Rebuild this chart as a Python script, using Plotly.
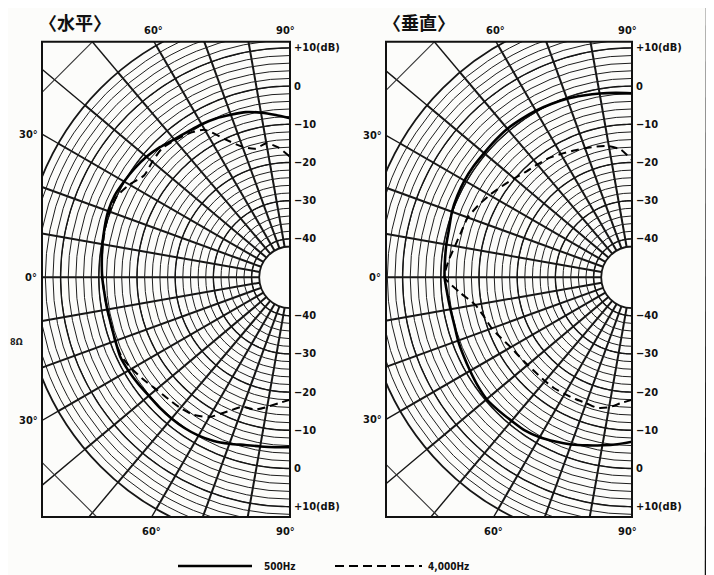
import math
import plotly.graph_objects as go

# ---------------- data ----------------
angles = list(range(-90, 95, 5))  # degrees; negative = lower half, 0 = front (left)

# 〈水平〉 horizontal
h_500 = [-5.6, -5.4, -5.1, -4.6, -3.7, -2.8, -2.2, -1.9, -1.8, -1.8, -1.8, -1.5, -1.2, -1.0, -1.4, -1.6, -1.5, -1.3,
         -0.9,
         -0.6, -0.2, 0.2, 0.6, 0.6, 0.1, -0.4, -1.0, -1.9, -2.9, -3.5, -3.8, -4.2, -4.8, -5.3, -6.3, -7.4, -8.4]
h_4000 = [-18.0, -17.0, -15.6, -14.2, -14.0, -11.3, -7.8, -6.1, -5.4, -5.0, -4.4, -3.3, -2.2, -1.3, -1.4, -1.6, -1.5, -1.3,
          -0.9,
          -0.6, -0.3, 0.0, 0.2, 0.0, -1.5, -3.5, -3.0, -2.5, -3.2, -4.0, -5.5, -10.3, -13.7, -15.2, -14.4, -16.0, -18.5]

# 〈垂直〉 vertical
v_500 = [-7.0, -6.2, -5.4, -4.5, -3.5, -2.6, -1.7, -1.1, -1.0, -0.7, -0.4, -0.7, -1.1, -1.4, -1.6, -1.9, -1.8, -1.5,
         -1.0,
         -0.9, -0.7, -0.5, 0.1, 0.4, 0.6, 0.6, 0.5, 0.6, 0.7, 0.5, 0.3, 0.0, -0.3, -0.8, -1.2, -1.6, -1.9]
v_4000 = [-18.0, -17.0, -15.5, -14.7, -15.0, -14.9, -14.8, -14.6, -14.6, -14.6, -14.4, -14.0, -13.4, -12.3, -11.0, -10.0, -8.4, -4.8,
          -1.0,
          -1.8, -3.0, -3.8, -4.3, -5.6, -7.0, -8.5, -9.8, -10.9, -11.5, -12.0, -12.8, -13.5, -14.1, -14.6, -15.2, -16.5, -19.4]

panel_titles = ["〈水平〉", "〈垂直〉"]
series_names = ["500Hz", "4,000Hz"]
db_labels = [10, 0, -10, -20, -30, -40]
angle_labels = [0, 30, 60, 90]
major_rings = [-40, -30, -20, -10, 0, 10]

# ---------------- geometry (reference page pixels) ----------------
W, H = 714, 575
OFF = 8  # page margin of the html body
DB_MIN, DB_MAX = -42, 20
R_OUT = 267.6
HOLE_PX = 30.8
HOLE = HOLE_PX / R_OUT
CY = 277.3
CENTERS = [290.0, 632.0]
BOX_LEFT = [42.0, 386.0]
BOX_TOP, BOX_BOT = 41.7, 517.0
PAPER = "#fcfcfa"
INK = "#161616"


def rpx(db):
    return HOLE_PX + (R_OUT - HOLE_PX) * (db - DB_MIN) / (DB_MAX - DB_MIN)


def px(x):
    return (x - OFF) / W


def py(y):
    return 1 - (y - OFF) / H


fig = go.Figure()

panels = [(h_500, h_4000), (v_500, v_4000)]
for i, (s500, s4000) in enumerate(panels):
    sub = "polar" if i == 0 else "polar2"
    ring_theta = list(range(-90, 91, 1))
    for rv in major_rings:
        fig.add_trace(go.Scatterpolar(r=[rv] * len(ring_theta), theta=ring_theta, mode="lines",
                                      line=dict(color=INK, width=1.4), hoverinfo="skip",
                                      showlegend=False, subplot=sub))
    fig.add_trace(go.Scatterpolar(r=s500, theta=angles, mode="lines", name=series_names[0],
                                  line=dict(color="#000000", width=2.6, shape="spline", smoothing=0.6),
                                  showlegend=False, subplot=sub))
    fig.add_trace(go.Scatterpolar(r=s4000, theta=angles, mode="lines", name=series_names[1],
                                  line=dict(color="#000000", width=2.0, dash="8px,5px", shape="spline", smoothing=0.6),
                                  showlegend=False, subplot=sub))

polar_common = dict(
    sector=[90, 270],
    hole=HOLE,
    bgcolor=PAPER,
    radialaxis=dict(range=[DB_MIN, DB_MAX], tickmode="array", tickvals=list(range(-42, 21, 2)),
                    showticklabels=False, ticks="", showline=False, gridcolor="#1e1e1e", gridwidth=1.1),
    angularaxis=dict(rotation=180, direction="clockwise", tickmode="linear", tick0=0, dtick=10,
                     showticklabels=False, ticks="", showline=True, linecolor=INK, linewidth=1.8,
                     gridcolor=INK, gridwidth=1.5),
)

layout_polars = {}
for i, cx in enumerate(CENTERS):
    dom = dict(x=[px(cx - R_OUT), px(cx)], y=[py(CY + R_OUT), py(CY - R_OUT)])
    layout_polars["polar" if i == 0 else "polar2"] = dict(domain=dom, **polar_common)

shapes = []
cover = dict(type="rect", xref="paper", yref="paper", fillcolor=PAPER, line=dict(width=0), layer="above")
shapes.append(dict(cover, x0=0, x1=1, y0=py(BOX_TOP), y1=1))
shapes.append(dict(cover, x0=0, x1=1, y0=0, y1=py(BOX_BOT)))
shapes.append(dict(cover, x0=0, x1=px(BOX_LEFT[0]), y0=0, y1=1))
shapes.append(dict(cover, x0=px(CENTERS[0]), x1=px(BOX_LEFT[1]), y0=0, y1=1))
shapes.append(dict(cover, x0=px(CENTERS[1]), x1=1, y0=0, y1=1))

annotations = []
lab_font = dict(family="DejaVu Sans Condensed, DejaVu Sans, Arial", size=11, color="#111")

for i, cx in enumerate(CENTERS):
    bl = BOX_LEFT[i]
    for a in range(10, 90, 10):
        ca, sa = math.cos(math.radians(a)), math.sin(math.radians(a))
        for sgn in (-1, 1):
            edge_v = (CY - BOX_TOP) if sgn < 0 else (BOX_BOT - CY)
            t = min((cx - bl) / ca, edge_v / sa)
            if t > R_OUT:
                x0, y0 = cx - R_OUT * ca, CY + sgn * R_OUT * sa
                x1, y1 = cx - t * ca, CY + sgn * t * sa
                shapes.append(dict(type="line", xref="paper", yref="paper", x0=px(x0), y0=py(y0),
                                   x1=px(x1), y1=py(y1), line=dict(color=INK, width=1.4), layer="above"))
    D = 433.0
    for sgn in (-1, 1):
        edge_v = (CY - BOX_TOP) if sgn < 0 else (BOX_BOT - CY)
        xa, ya = cx - (D - edge_v), CY + sgn * edge_v
        xb, yb = bl, CY + sgn * (D - (cx - bl))
        shapes.append(dict(type="line", xref="paper", yref="paper", x0=px(xa), y0=py(ya),
                           x1=px(xb), y1=py(yb), line=dict(color="#333", width=1.1), layer="above"))
    shapes.append(dict(type="rect", xref="paper", yref="paper", x0=px(bl), x1=px(cx),
                       y0=py(BOX_BOT), y1=py(BOX_TOP), line=dict(color="#111", width=2), layer="above"))

    for d in db_labels:
        txt = "+10(dB)" if d == 10 else ("0" if d == 0 else "−" + str(abs(d)))
        for sgn in (-1, 1):
            annotations.append(dict(x=px(cx + 2), y=py(CY + sgn * rpx(d)), xref="paper", yref="paper",
                                    text=f"<b>{txt}</b>", showarrow=False, xanchor="left", yanchor="middle",
                                    font=lab_font))
    for a in angle_labels:
        for sgn in ((-1, 1) if a else (1,)):
            if a == 0:
                annotations.append(dict(x=px(bl - 3), y=py(CY), xref="paper", yref="paper", text="<b>0°</b>",
                                        showarrow=False, xanchor="right", yanchor="middle", font=lab_font))
                continue
            edge_v = (CY - BOX_TOP) if sgn < 0 else (BOX_BOT - CY)
            if a == 30:
                yy = CY + sgn * (cx - bl) * math.tan(math.radians(a))
                annotations.append(dict(x=px(bl - 2), y=py(yy), xref="paper", yref="paper", text=f"<b>{a}°</b>",
                                        showarrow=False, xanchor="right", yanchor="middle", font=lab_font))
            else:
                xx = cx - edge_v / math.tan(math.radians(a))
                if a == 90:
                    xx -= 5
                yy = BOX_TOP - 11 if sgn < 0 else BOX_BOT + 14
                annotations.append(dict(x=px(xx), y=py(yy), xref="paper", yref="paper", text=f"<b>{a}°</b>",
                                        showarrow=False, xanchor="center", yanchor="middle", font=lab_font))
    annotations.append(dict(x=px(bl - 5), y=py(22), xref="paper", yref="paper", text=f"<b>{panel_titles[i]}</b>",
                            showarrow=False, xanchor="left", yanchor="middle",
                            font=dict(family="Noto Sans CJK JP", size=18, color="#111")))

leg_y = 566
shapes.append(dict(type="line", xref="paper", yref="paper", x0=px(178), x1=px(252), y0=py(leg_y), y1=py(leg_y),
                   line=dict(color="#000", width=2.4), layer="above"))
shapes.append(dict(type="line", xref="paper", yref="paper", x0=px(335), x1=px(422), y0=py(leg_y), y1=py(leg_y),
                   line=dict(color="#000", width=2.2, dash="9px,5px"), layer="above"))
leg_font = dict(family="DejaVu Sans Condensed, DejaVu Sans, Arial", size=10, color="#111")
annotations.append(dict(x=px(262), y=py(leg_y), xref="paper", yref="paper", text=f"<b>{series_names[0]}</b>",
                        showarrow=False, xanchor="left", yanchor="middle", font=leg_font))
annotations.append(dict(x=px(426), y=py(leg_y), xref="paper", yref="paper", text=f"<b>{series_names[1]}</b>",
                        showarrow=False, xanchor="left", yanchor="middle", font=leg_font))
annotations.append(dict(x=px(8), y=py(342), xref="paper", yref="paper", text="<b>8Ω</b>", showarrow=False,
                        xanchor="left", yanchor="middle",
                        font=dict(family="DejaVu Sans Condensed, DejaVu Sans", size=9, color="#222")))
shapes.append(dict(type="line", xref="paper", yref="paper", x0=px(707), x1=px(706), y0=1, y1=0,
                   line=dict(color="#111", width=2.5), layer="above"))

fig.update_layout(
    width=W, height=H, autosize=False,
    margin=dict(l=0, r=0, t=0, b=0),
    paper_bgcolor=PAPER, plot_bgcolor=PAPER,
    showlegend=False,
    shapes=shapes, annotations=annotations,
    **layout_polars,
)

fig.write_html("out.html")
